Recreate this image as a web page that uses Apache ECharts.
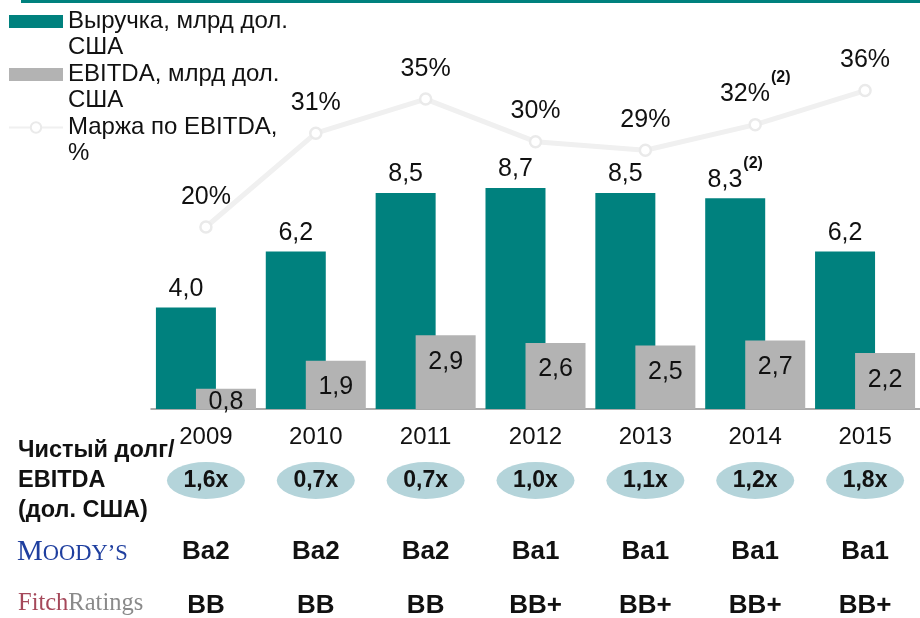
<!DOCTYPE html>
<html>
<head>
<meta charset="utf-8">
<script src="https://cdn.jsdelivr.net/npm/echarts@6/dist/echarts.min.js"></script>
<style>
  html, body { margin: 0; padding: 0; background: #fff; }
  #chart { width: 920px; height: 618px; }
</style>
</head>
<body>
<div id="chart"></div>
<script>
// values
const years = ['2009', '2010', '2011', '2012', '2013', '2014', '2015']
const revenue = [4.0, 6.2, 8.5, 8.7, 8.5, 8.3, 6.2]
const ebitda = [0.8, 1.9, 2.9, 2.6, 2.5, 2.7, 2.2]
const ebitdaMargin = [20, 31, 35, 30, 29, 32, 36]
const revenueNotes = ['', '', '', '', '', '(2)', '']
const marginNotes = ['', '', '', '', '', '(2)', '']
const netDebtToEbitda = [1.6, 0.7, 0.7, 1.0, 1.1, 1.2, 1.8]
const moodys = ['Ba2', 'Ba2', 'Ba2', 'Ba1', 'Ba1', 'Ba1', 'Ba1']
const fitch = ['BB', 'BB', 'BB', 'BB+', 'BB+', 'BB+', 'BB+']

const NAME_REV = 'Выручка, млрд дол. США'
const NAME_EBITDA = 'EBITDA, млрд дол. США'
const NAME_MARGIN = 'Маржа по EBITDA, %'

const FONT = "'Liberation Sans', Arial, sans-serif"
const SERIF = "'Liberation Serif', 'Times New Roman', serif"
const TEAL = '#00817e'
const GREY = '#b3b3b3'
const INK = '#111'

const fmt = v => v.toFixed(1).replace('.', ',')

// main text + bold superscript note like "(2)"
const noteRich = {
  v: { fontSize: 25, color: INK, fontFamily: FONT, verticalAlign: 'bottom' },
  s: { fontSize: 16, fontWeight: 'bold', color: INK, fontFamily: FONT, verticalAlign: 'top', padding: [0, 0, 21, 1] }
}
const withNote = (text, note) => note ? `{v|${text}}{s|${note}}` : `{v|${text}}`

const chart = echarts.init(document.getElementById('chart'))

const option = {
  animation: false,
  backgroundColor: '#fff',
  textStyle: { fontFamily: FONT },
  graphic: [
    { type: 'rect', shape: { x: 21, y: 0, width: 899, height: 3 }, style: { fill: TEAL } }
  ],
  legend: {
    orient: 'vertical',
    left: 8,
    top: -17.5,
    padding: 0,
    itemGap: -25,
    itemWidth: 54,
    itemHeight: 13,
    selectedMode: false,
    data: [
      { name: NAME_REV, icon: 'rect' },
      { name: NAME_EBITDA, icon: 'rect' },
      { name: NAME_MARGIN }
    ],
    // blank first line so the icon sits level with the first text line
    formatter: name => '\n' + name.replace(' США', '\nСША').replace(', %', ',\n%'),
    textStyle: { fontSize: 24, lineHeight: 26, color: INK, fontFamily: FONT }
  },
  grid: [
    { left: 151, width: 771, top: 28, height: 381 },
    { left: 151, width: 771, top: 462, height: 37 },
    { left: 151, width: 771, top: 536, height: 32 },
    { left: 151, width: 771, top: 594, height: 32 }
  ],
  xAxis: [
    {
      type: 'category',
      gridIndex: 0,
      data: years,
      axisLine: { lineStyle: { color: '#8f8f8f', width: 1.5 } },
      axisTick: { length: 6, lineStyle: { color: '#8f8f8f', width: 1.5 } },
      axisLabel: { fontSize: 24, color: INK, margin: 16, fontFamily: FONT }
    },
    { type: 'category', gridIndex: 1, data: years, show: false },
    { type: 'category', gridIndex: 2, data: years, show: false },
    { type: 'category', gridIndex: 3, data: years, show: false }
  ],
  yAxis: [
    { type: 'value', gridIndex: 0, min: 0, max: 15, show: false },
    { type: 'value', gridIndex: 0, min: -1.34, max: 43.33, show: false },
    {
      type: 'category',
      gridIndex: 1,
      data: ['Чистый долг/\nEBITDA\n(дол. США)'],
      axisLine: { show: false },
      axisTick: { show: false },
      axisLabel: { align: 'left', margin: 133, fontSize: 23.5, fontWeight: 'bold', lineHeight: 30, color: INK, fontFamily: FONT }
    },
    {
      type: 'category',
      gridIndex: 2,
      data: ['Moody’s'],
      axisLine: { show: false },
      axisTick: { show: false },
      axisLabel: {
        align: 'left',
        margin: 134,
        formatter: () => '{m|M}{r|OODY’S}',
        rich: {
          m: { fontSize: 29, color: '#1f3f9f', fontFamily: SERIF, verticalAlign: 'bottom' },
          r: { fontSize: 22.5, color: '#1f3f9f', fontFamily: SERIF, verticalAlign: 'bottom', padding: [0, 0, 1, 0] }
        }
      }
    },
    {
      type: 'category',
      gridIndex: 3,
      data: ['FitchRatings'],
      axisLine: { show: false },
      axisTick: { show: false },
      axisLabel: {
        align: 'left',
        margin: 133,
        formatter: () => '{f|Fitch}{r|Ratings}',
        rich: {
          f: { fontSize: 24.5, color: '#a5485a', fontFamily: SERIF, padding: [0, 0, 4, 0] },
          r: { fontSize: 24.5, color: '#8a8a8a', fontFamily: SERIF, padding: [0, 0, 4, 0] }
        }
      }
    }
  ],
  series: [
    {
      name: NAME_REV,
      type: 'bar',
      data: revenue,
      barWidth: 60,
      barGap: '-33.3%',
      itemStyle: { color: TEAL },
      label: {
        show: true,
        position: 'top',
        distance: 6,
        formatter: p => withNote(fmt(p.value), revenueNotes[p.dataIndex]),
        rich: noteRich
      }
    },
    {
      name: NAME_EBITDA,
      type: 'bar',
      // the smallest bar is too short for the usual inside offset
      data: ebitda.map(v => v < 1 ? { value: v, label: { distance: 1 } } : v),
      barWidth: 60,
      barGap: '-33.3%',
      itemStyle: { color: GREY },
      label: {
        show: true,
        position: 'insideTop',
        distance: 14,
        fontSize: 25,
        color: INK,
        formatter: p => fmt(p.value)
      }
    },
    {
      name: NAME_MARGIN,
      type: 'line',
      yAxisIndex: 1,
      data: ebitdaMargin,
      symbol: 'circle',
      symbolSize: 11,
      z: 3,
      lineStyle: { color: '#f0f0f0', width: 5 },
      itemStyle: { color: '#fff', borderColor: '#eaeaea', borderWidth: 2.5 },
      label: {
        show: true,
        position: 'top',
        distance: 11,
        formatter: p => withNote(p.value + '%', marginNotes[p.dataIndex]),
        rich: noteRich
      }
    },
    {
      type: 'scatter',
      xAxisIndex: 1,
      yAxisIndex: 2,
      silent: true,
      data: netDebtToEbitda.map((v, i) => [i, 0]),
      symbol: 'circle',
      symbolSize: [78, 37],
      itemStyle: { color: '#b4d4da', opacity: 1 },
      label: {
        show: true,
        position: 'inside',
        fontSize: 23,
        fontWeight: 'bold',
        color: INK,
        formatter: p => fmt(netDebtToEbitda[p.dataIndex]) + 'x'
      }
    },
    {
      type: 'scatter',
      xAxisIndex: 2,
      yAxisIndex: 3,
      silent: true,
      data: moodys.map((v, i) => [i, 0]),
      symbolSize: 1,
      itemStyle: { color: 'rgba(0,0,0,0)', opacity: 1 },
      label: {
        show: true,
        position: 'inside',
        fontSize: 26,
        fontWeight: 'bold',
        color: INK,
        formatter: p => moodys[p.dataIndex]
      }
    },
    {
      type: 'scatter',
      xAxisIndex: 3,
      yAxisIndex: 4,
      silent: true,
      data: fitch.map((v, i) => [i, 0]),
      symbolSize: 1,
      itemStyle: { color: 'rgba(0,0,0,0)', opacity: 1 },
      label: {
        show: true,
        position: 'inside',
        fontSize: 26,
        fontWeight: 'bold',
        color: INK,
        formatter: p => fitch[p.dataIndex]
      }
    }
  ]
}

chart.setOption(option)
</script>
</body>
</html>
